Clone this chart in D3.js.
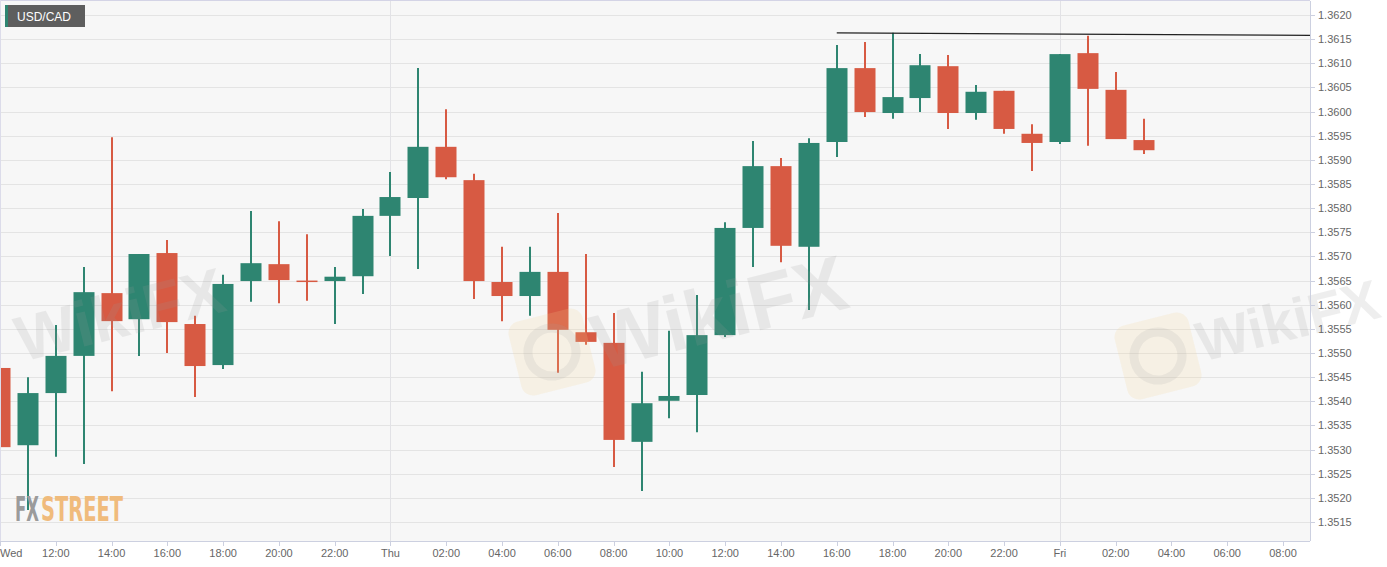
<!DOCTYPE html>
<html><head><meta charset="utf-8">
<script src="https://cdn.jsdelivr.net/npm/d3@7"></script>
<style>
body{margin:0;background:#fff}
svg{display:block;font-family:"Liberation Sans",Arial,sans-serif}
</style>
</head><body>
<svg id="c" width="1387" height="567"></svg>
<script>
// ---- data ----
const symbol = "USD/CAD";
const hours = [10,11,12,13,14,15,16,17,18,19,20,21,22,23,24,25,26,27,28,29,30,31,32,33,34,35,36,37,38,39,40,41,42,43,44,45,46,47,48,49,50,51];
const open  = [1.35469,1.35309,1.35417,1.35494,1.35624,1.35570,1.35707,1.35560,1.35475,1.35649,1.35684,1.35650,1.35649,1.35659,1.35784,1.35821,1.35927,1.35858,1.35647,1.35618,1.35668,1.35543,1.35521,1.35316,1.35401,1.35413,1.35537,1.35759,1.35887,1.35720,1.35937,1.36090,1.35997,1.36028,1.36094,1.35997,1.36043,1.35954,1.35937,1.36121,1.36045,1.35941];
const high  = [1.35508,1.35450,1.35558,1.35678,1.35947,1.35705,1.35734,1.35577,1.35662,1.35794,1.35773,1.35746,1.35678,1.35798,1.35875,1.36090,1.36005,1.35871,1.35720,1.35720,1.35790,1.35705,1.35583,1.35461,1.35546,1.35620,1.35771,1.35939,1.35904,1.35945,1.36138,1.36144,1.36163,1.36119,1.36117,1.36055,1.36043,1.35974,1.36119,1.36157,1.36082,1.35985];
const low   = [1.35229,1.35175,1.35285,1.35270,1.35421,1.35494,1.35500,1.35409,1.35467,1.35606,1.35603,1.35608,1.35560,1.35622,1.35701,1.35674,1.35860,1.35612,1.35566,1.35577,1.35459,1.35517,1.35264,1.35214,1.35365,1.35336,1.35533,1.35678,1.35688,1.35589,1.35906,1.35989,1.35985,1.35999,1.35964,1.35983,1.35954,1.35877,1.35933,1.35929,1.35943,1.35912];
const close = [1.35305,1.35417,1.35494,1.35626,1.35566,1.35705,1.35564,1.35473,1.35643,1.35686,1.35651,1.35649,1.35658,1.35784,1.35823,1.35927,1.35864,1.35649,1.35618,1.35668,1.35548,1.35523,1.35320,1.35396,1.35411,1.35537,1.35759,1.35887,1.35722,1.35935,1.36090,1.35999,1.36030,1.36096,1.35997,1.36041,1.35964,1.35935,1.36119,1.36047,1.35943,1.35920];
const xTicks = [10,12,14,16,18,20,22,24,26,28,30,32,34,36,38,40,42,44,46,48,50,52,54,56];
const xTickLabels = ["Wed","12:00","14:00","16:00","18:00","20:00","22:00","Thu","02:00","04:00","06:00","08:00","10:00","12:00","14:00","16:00","18:00","20:00","22:00","Fri","02:00","04:00","06:00","08:00"];
const dayLines = [24,48];
const yTicks = [1.3515,1.3520,1.3525,1.3530,1.3535,1.3540,1.3545,1.3550,1.3555,1.3560,1.3565,1.3570,1.3575,1.3580,1.3585,1.3590,1.3595,1.3600,1.3605,1.3610,1.3615,1.3620];
const resistanceX = [40,57];
const resistanceY = [1.36163,1.36158];
const watermarkText = "WikiFX";

// ---- layout ----
const W=1387,H=567;
const P={left:0,right:1310,top:1,bottom:541};
const GREEN="#2e8571", RED="#d75a43";
const svg=d3.select("#c");
const x=d3.scaleLinear().domain([10,56]).range([0,1283]);
const y=d3.scaleLinear().domain([1.3515,1.3620]).range([522,15]);

svg.append("rect").attr("width",W).attr("height",H).attr("fill","#fff");
svg.append("defs").append("clipPath").attr("id","pc").append("rect")
  .attr("x",P.left).attr("y",P.top).attr("width",P.right-P.left).attr("height",P.bottom-P.top);
svg.append("rect").attr("x",P.left).attr("y",P.top).attr("width",P.right-P.left).attr("height",P.bottom-P.top).attr("fill","#f7f7f7");

// grid
const g=svg.append("g").attr("clip-path","url(#pc)");
g.selectAll("line.hg").data(yTicks).join("line")
  .attr("x1",P.left).attr("x2",P.right)
  .attr("y1",d=>Math.round(y(d))+0.5).attr("y2",d=>Math.round(y(d))+0.5)
  .attr("stroke","#e4e4e4").attr("stroke-width",1);
g.selectAll("line.vg").data(dayLines).join("line")
  .attr("y1",P.top).attr("y2",P.bottom)
  .attr("x1",d=>Math.round(x(d))+0.5).attr("x2",d=>Math.round(x(d))+0.5)
  .attr("stroke","#e2e2e6").attr("stroke-width",1);

// watermarks (faint)
const wmg=svg.append("g");
function wmLogo(cx,cy){
  const w=wmg.append("g").attr("transform",`translate(${cx},${cy}) rotate(-14)`);
  w.append("rect").attr("x",-38).attr("y",-38).attr("width",76).attr("height",76).attr("rx",12).attr("fill","#f3d58e").attr("opacity",0.18);
  w.append("circle").attr("r",24).attr("fill","none").attr("stroke","#a0a0a0").attr("stroke-width",9).attr("opacity",0.15);
}
function wmText(tx,ty,size){
  wmg.append("text").attr("transform",`translate(${tx},${ty}) rotate(-14)`)
    .attr("font-size",size).attr("font-weight","bold").attr("fill","#9a9a9a").attr("opacity",0.16)
    .text(watermarkText);
}
wmLogo(552,352); wmText(600,370,78);
wmLogo(1158,356); wmText(1202,362,56);
wmText(22,362,64);

// candles
const data=hours.map((h,i)=>({h,o:open[i],hi:high[i],lo:low[i],c:close[i]}));
const bw=21;
const cg=g.append("g");
cg.selectAll("line.w").data(data).join("line")
  .attr("x1",d=>Math.round(x(d.h))).attr("x2",d=>Math.round(x(d.h)))
  .attr("y1",d=>y(d.hi)).attr("y2",d=>y(d.lo))
  .attr("stroke",d=>d.c>=d.o?GREEN:RED).attr("stroke-width",2);
cg.selectAll("rect.b").data(data).join("rect")
  .attr("x",d=>Math.round(x(d.h))-bw/2)
  .attr("width",bw)
  .attr("y",d=>y(Math.max(d.o,d.c)))
  .attr("height",d=>Math.max(1.5,Math.abs(y(d.o)-y(d.c))))
  .attr("fill",d=>d.c>=d.o?GREEN:RED);

// resistance line
g.append("line")
  .attr("x1",x(resistanceX[0])).attr("x2",x(resistanceX[1]))
  .attr("y1",y(resistanceY[0])).attr("y2",y(resistanceY[1]))
  .attr("stroke","#222").attr("stroke-width",1.2);

// borders
svg.append("line").attr("x1",0).attr("x2",P.right).attr("y1",0.5).attr("y2",0.5).attr("stroke","#d4d4e6");
svg.append("line").attr("x1",0.5).attr("x2",0.5).attr("y1",0).attr("y2",P.bottom).attr("stroke","#dcdcea");

// right axis
const ya=svg.append("g").attr("transform",`translate(${P.right},0)`);
ya.append("line").attr("x1",0.5).attr("x2",0.5).attr("y1",P.top).attr("y2",P.bottom).attr("stroke","#ccd0e0");
ya.selectAll("line.t").data(yTicks).join("line")
  .attr("x1",0).attr("x2",5).attr("y1",d=>Math.round(y(d))+0.5).attr("y2",d=>Math.round(y(d))+0.5)
  .attr("stroke","#ccd0e0");
ya.selectAll("text").data(yTicks).join("text")
  .attr("x",8).attr("y",d=>y(d)+4).attr("font-size",11).attr("fill","#666")
  .text(d=>d.toFixed(4));

// bottom axis
const xa=svg.append("g");
xa.append("line").attr("x1",0).attr("x2",P.right).attr("y1",P.bottom+0.5).attr("y2",P.bottom+0.5).attr("stroke","#ccd0e0");
xa.selectAll("line.t").data(xTicks).join("line")
  .attr("x1",d=>Math.round(x(d))+0.5).attr("x2",d=>Math.round(x(d))+0.5)
  .attr("y1",P.bottom).attr("y2",P.bottom+5).attr("stroke","#ccd0e0");
xa.selectAll("text").data(xTicks).join("text")
  .attr("x",(d,i)=>x(d)<15?0:x(d))
  .attr("text-anchor",d=>x(d)<15?"start":"middle")
  .attr("y",557).attr("font-size",11).attr("fill","#666")
  .text((d,i)=>xTickLabels[i]);

// symbol label
svg.append("rect").attr("x",5).attr("y",5).attr("width",80).attr("height",22).attr("fill","#5e5e5e");
svg.append("rect").attr("x",5).attr("y",5).attr("width",3).attr("height",22).attr("fill",GREEN);
svg.append("text").attr("x",17).attr("y",20.5).attr("font-size",12).attr("fill","#fff").text(symbol);

// FXSTREET logo (horizontally compressed with a scale transform)
const logoFont="'Liberation Sans Narrow','DejaVu Sans Condensed',sans-serif";
function logoPart(txt,x0,wTarget,fill){
  const t=svg.append("text").attr("font-size",33).attr("font-weight","bold")
    .attr("font-family",logoFont).attr("fill",fill).text(txt);
  const w=t.node().getComputedTextLength();
  t.attr("transform",`translate(${x0},521) scale(${wTarget/w},1)`);
}
logoPart("FX",15,24,"#9b9b9b");
logoPart("STREET",41,82,"#f0bb7c");
</script>
</body></html>
